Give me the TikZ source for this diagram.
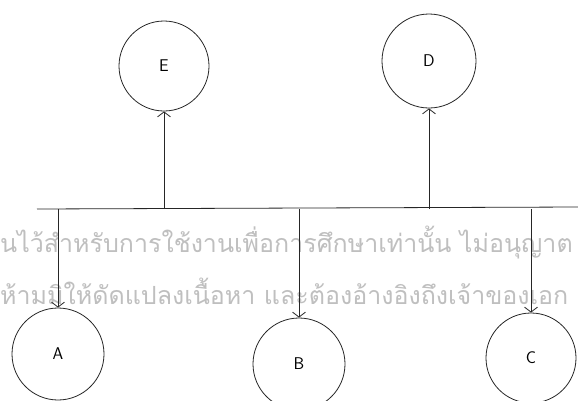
\documentclass[tikz,border=0pt]{standalone}
\usepackage{fontspec}
\newfontfamily\thaifont[Script=Thai]{Loma}
\usetikzlibrary{arrows.meta}
\begin{document}
\begin{tikzpicture}[x=1pt,y=-1pt,
  stn/.style={circle,draw=black!85,line width=0.8pt,inner sep=0pt,font=\sffamily\fontsize{17}{17}\selectfont},
  link/.style={draw=black!85,line width=0.8pt},
  arr/.style={link,-{Straight Barb[length=5pt,width=13pt,line width=0.8pt]}},
  wm/.style={text=black!25,font=\thaifont\fontsize{25}{25}\selectfont,inner sep=0pt}]
\useasboundingbox (0,0) rectangle (578,400);
\fill[white] (0,0) rectangle (578,400);
% watermark
\node[wm,anchor=west] (w1) at (0,243) {นไว้สำหรับการใช้งานเพื่อการศึกษาเท่านั้น ไม่อนุญาต};
\node[wm,anchor=west] (w2) at (0,291) {ห้ามมิให้ดัดแปลงเนื้อหา และต้องอ้างอิงถึงเจ้าของเอก};
% bus
\coordinate (busL) at (37,209);
\coordinate (busR) at (578,207);
\draw[link] (busL) -- (busR);
% stations
\node[stn,minimum size=90pt] (E) at (164,66) {E};
\node[stn,minimum size=94pt] (D) at (429,61) {D};
\node[stn,minimum size=92pt] (A) at (58,354) {A};
\node[stn,minimum size=92pt] (B) at (299,364) {B};
\node[stn,minimum size=90pt] (C) at (531,358) {C};
% connectors
\draw[arr] (E |- busL) -- (E);
\draw[arr] (D |- busL) -- (D);
\draw[arr] (A |- busL) -- (A);
\draw[arr] (B |- busL) -- (B);
\draw[arr] (C |- busL) -- (C);
\end{tikzpicture}
\end{document}
